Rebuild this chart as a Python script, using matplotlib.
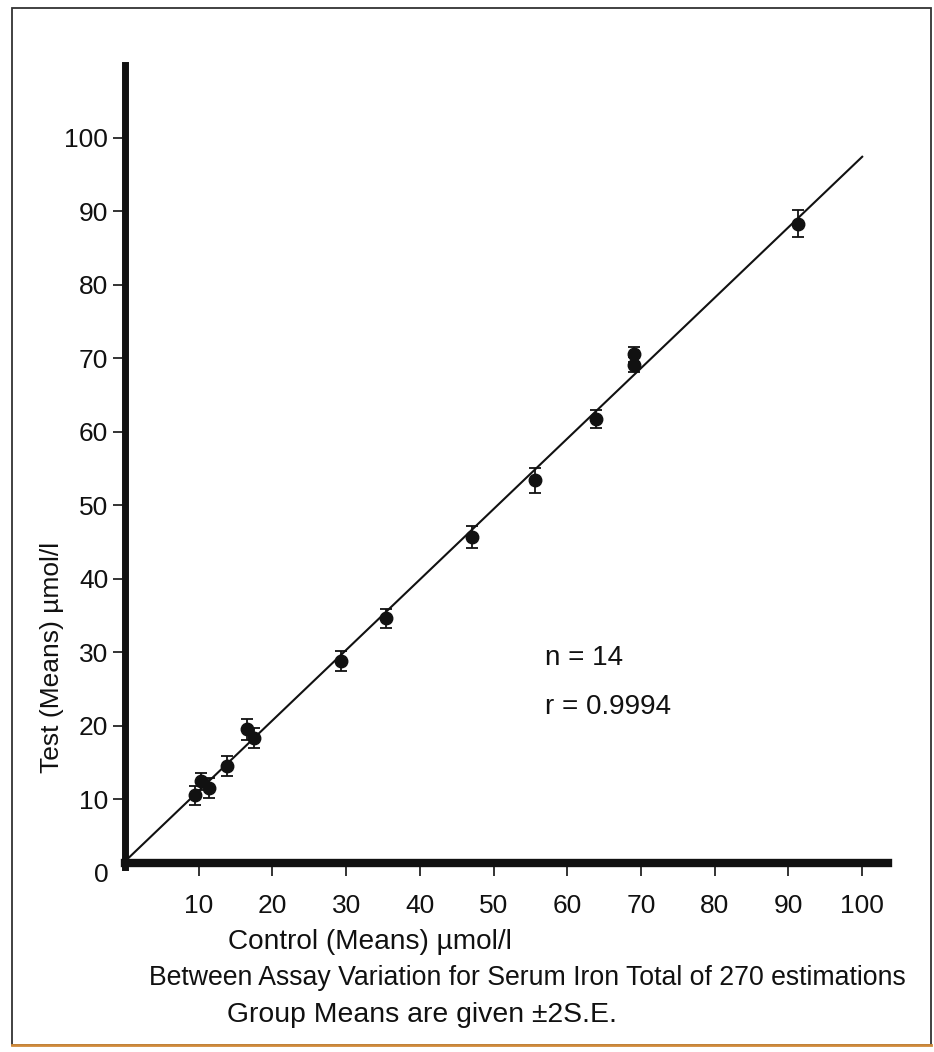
import numpy as np
import matplotlib
matplotlib.use("Agg")
import matplotlib.pyplot as plt
from matplotlib.patches import Rectangle
from matplotlib.lines import Line2D

plt.rcParams['font.family'] = ['Liberation Sans', 'DejaVu Sans']

# ---- data ----
control_means = [9.5, 10.3, 11.4, 13.8, 16.6, 17.5, 29.3, 35.4, 47.1, 55.6, 63.9, 69.0, 69.0, 91.3]
test_means    = [10.5, 12.4, 11.5, 14.5, 19.5, 18.3, 28.8, 34.6, 45.7, 53.4, 61.7, 70.5, 69.1, 88.3]
two_se        = [1.3, 1.2, 1.3, 1.4, 1.4, 1.3, 1.4, 1.3, 1.5, 1.7, 1.2, 1.0, 1.0, 1.8]
x_ticks = [10, 20, 30, 40, 50, 60, 70, 80, 90, 100]
y_ticks = [0, 10, 20, 30, 40, 50, 60, 70, 80, 90, 100]
n_label = "n = 14"
r_label = "r = 0.9994"
x_label = "Control (Means) \u00b5mol/l"
y_label = "Test (Means) \u00b5mol/l"
caption1 = "Between Assay Variation for Serum Iron Total of 270 estimations"
caption2 = "Group Means are given \u00b12S.E."

W, H = 934, 1052
fig = plt.figure(figsize=(W / 100, H / 100), dpi=100)
fig.patch.set_facecolor('white')

def fx(px):
    return px / W

def fy(py):
    return 1 - py / H

ax = fig.add_axes([fx(125), fy(872.5), fx(888) - fx(125), fy(65) - fy(872.5)])
ax.set_xlim(0, 103.5)
ax.set_ylim(0, 109.9)
ax.patch.set_alpha(0)

for s in ('top', 'right'):
    ax.spines[s].set_visible(False)
ax.spines['left'].set_linewidth(5)
ax.spines['bottom'].set_linewidth(6)
ax.spines['bottom'].set_position(('data', 1.3))
ax.spines['left'].set_bounds(0.7, 109.9)
ax.spines['left'].set_color('#111111')
ax.spines['bottom'].set_color('#111111')

ax.set_xticks(x_ticks)
ax.set_yticks(y_ticks)
ax.tick_params(axis='x', direction='out', length=9.5, width=1.2, pad=13,
               labelsize=19, colors='#111111')
ax.tick_params(axis='y', direction='out', length=8.6, width=1.2, pad=3.5,
               labelsize=19, colors='#111111')
ax.yaxis.get_major_ticks()[0].tick1line.set_visible(False)

# regression line from data
coef = np.polyfit(control_means, test_means, 1)
xx = np.array([0.0, 100.0])
ax.plot(xx, np.polyval(coef, xx), color='#111111', lw=1.5, zorder=2)

ax.errorbar(control_means, test_means, yerr=two_se, fmt='o', color='#111111',
            ms=9, capsize=4.5, elinewidth=1.3, capthick=1.3, zorder=3)

ax.text(57.0, 29.2, n_label, fontsize=20, va='center', ha='left', color='#111111')
ax.text(57.0, 22.5, r_label, fontsize=20, va='center', ha='left', color='#111111')

fig.text(fx(52), fy(657), y_label, rotation=90, ha='center', va='center',
         fontsize=19, color='#111111')
fig.text(fx(228), fy(942), x_label, ha='left', va='center', fontsize=20.2, color='#111111')
fig.text(fx(527), fy(978), caption1, ha='center', va='center', fontsize=19.2, color='#111111')
fig.text(fx(227), fy(1015), caption2, ha='left', va='center', fontsize=20.4, color='#111111')

# outer frame
fig.add_artist(Rectangle((fx(12), fy(1045)), fx(931) - fx(12), fy(8) - fy(1045),
                         transform=fig.transFigure, fill=False, lw=1.3, ec='#333333'))
fig.add_artist(Line2D([fx(12), fx(931)], [fy(1045), fy(1045)],
                      transform=fig.transFigure, lw=2, color='#d08a3a'))

fig.savefig('out.png', dpi=100)
